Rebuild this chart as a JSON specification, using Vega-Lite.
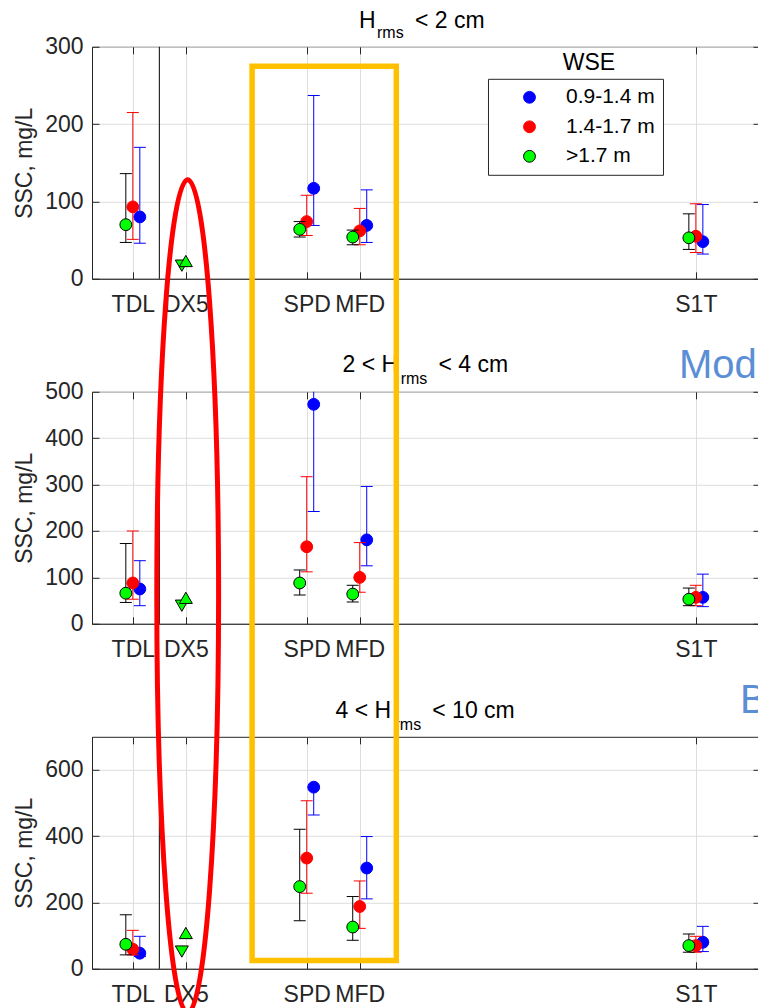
{
  "$schema": "https://vega.github.io/schema/vega-lite/v6.json",
  "background": "white",
  "padding": {"left": 13, "top": 8.8, "right": 0, "bottom": 0},
  "autosize": {"type": "pad"},
  "config": {
    "font": "Liberation Sans",
    "view": {"stroke": "#262626", "strokeWidth": 1},
    "axis": {
      "labelFont": "Liberation Sans", "labelFontSize": 23, "labelColor": "#262626",
      "titleFont": "Liberation Sans", "titleFontSize": 23, "titleFontWeight": "normal", "titleColor": "#262626",
      "domainColor": "#262626", "domainWidth": 1, "tickColor": "#262626", "tickWidth": 1,
      "gridColor": "#DEDEDE", "gridWidth": 1, "labelFlush": false, "labelOverlap": false
    }
  },
  "datasets": {
    "divider": [{"pos": 1.5}],
    "ssc": [
      {"panel": 1, "station": "TDL", "pos": 1, "wse": "0.9-1.4 m", "ssc": 80, "lo": 46, "hi": 170},
      {"panel": 1, "station": "TDL", "pos": 1, "wse": "1.4-1.7 m", "ssc": 93, "lo": 51, "hi": 215},
      {"panel": 1, "station": "TDL", "pos": 1, "wse": ">1.7 m", "ssc": 70, "lo": 47, "hi": 136},
      {"panel": 1, "station": "SPD", "pos": 4.28, "wse": "0.9-1.4 m", "ssc": 117, "lo": 69, "hi": 237},
      {"panel": 1, "station": "SPD", "pos": 4.28, "wse": "1.4-1.7 m", "ssc": 74, "lo": 56, "hi": 108},
      {"panel": 1, "station": "SPD", "pos": 4.28, "wse": ">1.7 m", "ssc": 64, "lo": 54, "hi": 74},
      {"panel": 1, "station": "MFD", "pos": 5.28, "wse": "0.9-1.4 m", "ssc": 69, "lo": 47, "hi": 115},
      {"panel": 1, "station": "MFD", "pos": 5.28, "wse": "1.4-1.7 m", "ssc": 62, "lo": 44, "hi": 91},
      {"panel": 1, "station": "MFD", "pos": 5.28, "wse": ">1.7 m", "ssc": 54, "lo": 44, "hi": 63},
      {"panel": 1, "station": "S1T", "pos": 11.62, "wse": "0.9-1.4 m", "ssc": 48, "lo": 32, "hi": 96},
      {"panel": 1, "station": "S1T", "pos": 11.62, "wse": "1.4-1.7 m", "ssc": 55, "lo": 34, "hi": 97},
      {"panel": 1, "station": "S1T", "pos": 11.62, "wse": ">1.7 m", "ssc": 53, "lo": 38, "hi": 84},
      {"panel": 2, "station": "TDL", "pos": 1, "wse": "0.9-1.4 m", "ssc": 75, "lo": 39, "hi": 136},
      {"panel": 2, "station": "TDL", "pos": 1, "wse": "1.4-1.7 m", "ssc": 88, "lo": 53, "hi": 200},
      {"panel": 2, "station": "TDL", "pos": 1, "wse": ">1.7 m", "ssc": 66, "lo": 46, "hi": 173},
      {"panel": 2, "station": "SPD", "pos": 4.28, "wse": "0.9-1.4 m", "ssc": 473, "lo": 242, "hi": 700},
      {"panel": 2, "station": "SPD", "pos": 4.28, "wse": "1.4-1.7 m", "ssc": 166, "lo": 112, "hi": 317},
      {"panel": 2, "station": "SPD", "pos": 4.28, "wse": ">1.7 m", "ssc": 88, "lo": 62, "hi": 116},
      {"panel": 2, "station": "MFD", "pos": 5.28, "wse": "0.9-1.4 m", "ssc": 181, "lo": 125, "hi": 296},
      {"panel": 2, "station": "MFD", "pos": 5.28, "wse": "1.4-1.7 m", "ssc": 100, "lo": 68, "hi": 175},
      {"panel": 2, "station": "MFD", "pos": 5.28, "wse": ">1.7 m", "ssc": 64, "lo": 47, "hi": 83},
      {"panel": 2, "station": "S1T", "pos": 11.62, "wse": "0.9-1.4 m", "ssc": 57, "lo": 37, "hi": 107},
      {"panel": 2, "station": "S1T", "pos": 11.62, "wse": "1.4-1.7 m", "ssc": 57, "lo": 39, "hi": 83},
      {"panel": 2, "station": "S1T", "pos": 11.62, "wse": ">1.7 m", "ssc": 53, "lo": 39, "hi": 77},
      {"panel": 3, "station": "TDL", "pos": 1, "wse": "0.9-1.4 m", "ssc": 47, "lo": 37, "hi": 98},
      {"panel": 3, "station": "TDL", "pos": 1, "wse": "1.4-1.7 m", "ssc": 59, "lo": 42, "hi": 116},
      {"panel": 3, "station": "TDL", "pos": 1, "wse": ">1.7 m", "ssc": 74, "lo": 42, "hi": 163},
      {"panel": 3, "station": "SPD", "pos": 4.28, "wse": "0.9-1.4 m", "ssc": 548, "lo": 464, "hi": 548},
      {"panel": 3, "station": "SPD", "pos": 4.28, "wse": "1.4-1.7 m", "ssc": 334, "lo": 228, "hi": 507},
      {"panel": 3, "station": "SPD", "pos": 4.28, "wse": ">1.7 m", "ssc": 248, "lo": 145, "hi": 421},
      {"panel": 3, "station": "MFD", "pos": 5.28, "wse": "0.9-1.4 m", "ssc": 304, "lo": 211, "hi": 399},
      {"panel": 3, "station": "MFD", "pos": 5.28, "wse": "1.4-1.7 m", "ssc": 188, "lo": 122, "hi": 265},
      {"panel": 3, "station": "MFD", "pos": 5.28, "wse": ">1.7 m", "ssc": 126, "lo": 86, "hi": 218},
      {"panel": 3, "station": "S1T", "pos": 11.62, "wse": "0.9-1.4 m", "ssc": 80, "lo": 52, "hi": 128},
      {"panel": 3, "station": "S1T", "pos": 11.62, "wse": "1.4-1.7 m", "ssc": 70, "lo": 50, "hi": 98},
      {"panel": 3, "station": "S1T", "pos": 11.62, "wse": ">1.7 m", "ssc": 70, "lo": 50, "hi": 105}
    ],
    "dx5": [
      {"panel": 1, "station": "DX5", "pos": 2, "dir": "down", "ssc": 17},
      {"panel": 1, "station": "DX5", "pos": 2, "dir": "up", "ssc": 23},
      {"panel": 2, "station": "DX5", "pos": 2, "dir": "down", "ssc": 39},
      {"panel": 2, "station": "DX5", "pos": 2, "dir": "up", "ssc": 56},
      {"panel": 3, "station": "DX5", "pos": 2, "dir": "down", "ssc": 52},
      {"panel": 3, "station": "DX5", "pos": 2, "dir": "up", "ssc": 108}
    ]
  },
  "spacing": 113,
  "bounds": "flush",
  "resolve": {
    "scale": {"y": "independent", "fill": "independent", "stroke": "independent"},
    "legend": {"fill": "independent", "stroke": "independent"}
  },
  "vconcat": [
    {
      "width": 668, "height": 232,
      "resolve": {"axis": {"x": "independent", "y": "independent"}},
      "layer": [
        {"data": {"name": "divider"}, "mark": {"type": "rule", "color": "#000000", "strokeWidth": 1},
         "encoding": {"x": {"field": "pos", "type": "quantitative", "scale": {"domain": [0.23, 12.83], "nice": false, "zero": false}, "axis": null}}},

        {"data": {"name": "ssc"}, "transform": [{"filter": "datum.panel == 1 && datum.wse == '0.9-1.4 m'"}],
         "mark": {"type": "rule", "stroke": "#0000FF", "strokeWidth": 1, "clip": true, "xOffset": 7},
         "encoding": {"x": {"field": "pos", "type": "quantitative", "scale": {"domain": [0.23, 12.83], "nice": false, "zero": false}, "axis": null},
                      "y": {"field": "lo", "type": "quantitative", "scale": {"domain": [0, 300], "nice": false, "zero": false}, "axis": null}, "y2": {"field": "hi"}}},
        {"data": {"name": "ssc"}, "transform": [{"filter": "datum.panel == 1 && datum.wse == '0.9-1.4 m'"}, {"fold": ["lo", "hi"], "as": ["end", "val"]}],
         "mark": {"type": "point", "shape": "stroke", "size": 144, "strokeWidth": 1, "filled": false, "stroke": "#0000FF", "opacity": 1, "clip": true, "xOffset": 7},
         "encoding": {"x": {"field": "pos", "type": "quantitative", "scale": {"domain": [0.23, 12.83], "nice": false, "zero": false},
                            "axis": {"orient": "top", "values": [1, 2, 4.28, 5.28, 11.62], "labels": false, "grid": false, "domain": false, "tickSize": -7, "title": null}},
                      "y": {"field": "val", "type": "quantitative", "scale": {"domain": [0, 300], "nice": false, "zero": false},
                            "axis": {"orient": "right", "values": [0, 100, 200, 300], "labels": false, "grid": false, "domain": false, "tickSize": -7, "title": null}}}},
        {"data": {"name": "ssc"}, "transform": [{"filter": "datum.panel == 1 && datum.wse == '0.9-1.4 m'"}],
         "mark": {"type": "point", "filled": true, "shape": "circle", "size": 140, "strokeWidth": 1, "opacity": 1, "xOffset": 7},
         "encoding": {
           "x": {"field": "pos", "type": "quantitative", "scale": {"domain": [0.23, 12.83], "nice": false, "zero": false},
                 "axis": {"values": [1, 2, 4.28, 5.28, 11.62], "labelExpr": "datum.value < 1.5 ? 'TDL' : datum.value < 3 ? 'DX5' : datum.value < 4.8 ? 'SPD' : datum.value < 8 ? 'MFD' : 'S1T'", "title": null, "grid": true, "tickSize": -7, "labelPadding": 22}},
           "y": {"field": "ssc", "type": "quantitative", "scale": {"domain": [0, 300], "nice": false, "zero": false},
                 "axis": {"values": [0, 100, 200, 300], "title": "SSC, mg/L", "grid": true, "tickSize": -7, "labelPadding": 16, "titlePadding": 8}},
           "fill": {"field": "wse", "type": "nominal", "scale": {"domain": ["0.9-1.4 m", "1.4-1.7 m", ">1.7 m"], "range": ["#0000FF", "#FF0000", "#00FF00"]},
                    "legend": {"orient": "none", "legendX": 396, "legendY": 32, "title": null, "padding": 8, "symbolOffset": 23, "labelOffset": 26, "rowPadding": 7.5, "strokeColor": "#262626", "fillColor": "white", "labelFont": "Liberation Sans", "labelFontSize": 21, "labelColor": "#000000", "symbolType": "circle", "symbolSize": 140, "symbolStrokeWidth": 1, "labelLimit": 300}},
           "stroke": {"field": "wse", "type": "nominal", "scale": {"domain": ["0.9-1.4 m", "1.4-1.7 m", ">1.7 m"], "range": ["#0000FF", "#FF0000", "#000000"]},
                    "legend": {"orient": "none", "legendX": 396, "legendY": 32, "title": null, "padding": 8, "symbolOffset": 23, "labelOffset": 26, "rowPadding": 7.5, "strokeColor": "#262626", "fillColor": "white", "labelFont": "Liberation Sans", "labelFontSize": 21, "labelColor": "#000000", "symbolType": "circle", "symbolSize": 140, "symbolStrokeWidth": 1, "labelLimit": 300}}
         }},

        {"data": {"name": "ssc"}, "transform": [{"filter": "datum.panel == 1 && datum.wse == '1.4-1.7 m'"}],
         "mark": {"type": "rule", "stroke": "#FF0000", "strokeWidth": 1, "clip": true},
         "encoding": {"x": {"field": "pos", "type": "quantitative", "scale": {"domain": [0.23, 12.83], "nice": false, "zero": false}, "axis": null},
                      "y": {"field": "lo", "type": "quantitative", "scale": {"domain": [0, 300], "nice": false, "zero": false}, "axis": null}, "y2": {"field": "hi"}}},
        {"data": {"name": "ssc"}, "transform": [{"filter": "datum.panel == 1 && datum.wse == '1.4-1.7 m'"}, {"fold": ["lo", "hi"], "as": ["end", "val"]}],
         "mark": {"type": "point", "shape": "stroke", "size": 144, "strokeWidth": 1, "filled": false, "stroke": "#FF0000", "opacity": 1, "clip": true},
         "encoding": {"x": {"field": "pos", "type": "quantitative", "scale": {"domain": [0.23, 12.83], "nice": false, "zero": false}, "axis": null},
                      "y": {"field": "val", "type": "quantitative", "scale": {"domain": [0, 300], "nice": false, "zero": false}, "axis": null}}},
        {"data": {"name": "ssc"}, "transform": [{"filter": "datum.panel == 1 && datum.wse == '1.4-1.7 m'"}],
         "mark": {"type": "point", "filled": true, "shape": "circle", "size": 140, "strokeWidth": 1, "opacity": 1},
         "encoding": {
           "x": {"field": "pos", "type": "quantitative", "scale": {"domain": [0.23, 12.83], "nice": false, "zero": false}, "axis": null},
           "y": {"field": "ssc", "type": "quantitative", "scale": {"domain": [0, 300], "nice": false, "zero": false}, "axis": null},
           "fill": {"field": "wse", "type": "nominal", "scale": {"domain": ["0.9-1.4 m", "1.4-1.7 m", ">1.7 m"], "range": ["#0000FF", "#FF0000", "#00FF00"]},
                    "legend": {"orient": "none", "legendX": 396, "legendY": 32, "title": null, "padding": 8, "symbolOffset": 23, "labelOffset": 26, "rowPadding": 7.5, "strokeColor": "#262626", "fillColor": "white", "labelFont": "Liberation Sans", "labelFontSize": 21, "labelColor": "#000000", "symbolType": "circle", "symbolSize": 140, "symbolStrokeWidth": 1, "labelLimit": 300}},
           "stroke": {"field": "wse", "type": "nominal", "scale": {"domain": ["0.9-1.4 m", "1.4-1.7 m", ">1.7 m"], "range": ["#0000FF", "#FF0000", "#000000"]},
                    "legend": {"orient": "none", "legendX": 396, "legendY": 32, "title": null, "padding": 8, "symbolOffset": 23, "labelOffset": 26, "rowPadding": 7.5, "strokeColor": "#262626", "fillColor": "white", "labelFont": "Liberation Sans", "labelFontSize": 21, "labelColor": "#000000", "symbolType": "circle", "symbolSize": 140, "symbolStrokeWidth": 1, "labelLimit": 300}}
         }},

        {"data": {"name": "ssc"}, "transform": [{"filter": "datum.panel == 1 && datum.wse == '>1.7 m'"}],
         "mark": {"type": "rule", "stroke": "#000000", "strokeWidth": 1, "clip": true, "xOffset": -7},
         "encoding": {"x": {"field": "pos", "type": "quantitative", "scale": {"domain": [0.23, 12.83], "nice": false, "zero": false}, "axis": null},
                      "y": {"field": "lo", "type": "quantitative", "scale": {"domain": [0, 300], "nice": false, "zero": false}, "axis": null}, "y2": {"field": "hi"}}},
        {"data": {"name": "ssc"}, "transform": [{"filter": "datum.panel == 1 && datum.wse == '>1.7 m'"}, {"fold": ["lo", "hi"], "as": ["end", "val"]}],
         "mark": {"type": "point", "shape": "stroke", "size": 144, "strokeWidth": 1, "filled": false, "stroke": "#000000", "opacity": 1, "clip": true, "xOffset": -7},
         "encoding": {"x": {"field": "pos", "type": "quantitative", "scale": {"domain": [0.23, 12.83], "nice": false, "zero": false}, "axis": null},
                      "y": {"field": "val", "type": "quantitative", "scale": {"domain": [0, 300], "nice": false, "zero": false}, "axis": null}}},
        {"data": {"name": "ssc"}, "transform": [{"filter": "datum.panel == 1 && datum.wse == '>1.7 m'"}],
         "mark": {"type": "point", "filled": true, "shape": "circle", "size": 140, "strokeWidth": 1, "opacity": 1, "xOffset": -7},
         "encoding": {
           "x": {"field": "pos", "type": "quantitative", "scale": {"domain": [0.23, 12.83], "nice": false, "zero": false}, "axis": null},
           "y": {"field": "ssc", "type": "quantitative", "scale": {"domain": [0, 300], "nice": false, "zero": false}, "axis": null},
           "fill": {"field": "wse", "type": "nominal", "scale": {"domain": ["0.9-1.4 m", "1.4-1.7 m", ">1.7 m"], "range": ["#0000FF", "#FF0000", "#00FF00"]},
                    "legend": {"orient": "none", "legendX": 396, "legendY": 32, "title": null, "padding": 8, "symbolOffset": 23, "labelOffset": 26, "rowPadding": 7.5, "strokeColor": "#262626", "fillColor": "white", "labelFont": "Liberation Sans", "labelFontSize": 21, "labelColor": "#000000", "symbolType": "circle", "symbolSize": 140, "symbolStrokeWidth": 1, "labelLimit": 300}},
           "stroke": {"field": "wse", "type": "nominal", "scale": {"domain": ["0.9-1.4 m", "1.4-1.7 m", ">1.7 m"], "range": ["#0000FF", "#FF0000", "#000000"]},
                    "legend": {"orient": "none", "legendX": 396, "legendY": 32, "title": null, "padding": 8, "symbolOffset": 23, "labelOffset": 26, "rowPadding": 7.5, "strokeColor": "#262626", "fillColor": "white", "labelFont": "Liberation Sans", "labelFontSize": 21, "labelColor": "#000000", "symbolType": "circle", "symbolSize": 140, "symbolStrokeWidth": 1, "labelLimit": 300}}
         }},

        {"data": {"name": "dx5"}, "transform": [{"filter": "datum.panel == 1 && datum.dir == 'down'"}],
         "mark": {"type": "point", "shape": "triangle-down", "filled": true, "fill": "#00FF00", "stroke": "#000000", "strokeWidth": 1, "size": 169, "opacity": 1, "xOffset": -4},
         "encoding": {"x": {"field": "pos", "type": "quantitative", "scale": {"domain": [0.23, 12.83], "nice": false, "zero": false}, "axis": null},
                      "y": {"field": "ssc", "type": "quantitative", "scale": {"domain": [0, 300], "nice": false, "zero": false}, "axis": null}}},
        {"data": {"name": "dx5"}, "transform": [{"filter": "datum.panel == 1 && datum.dir == 'up'"}],
         "mark": {"type": "point", "shape": "triangle-up", "filled": true, "fill": "#00FF00", "stroke": "#000000", "strokeWidth": 1, "size": 169, "opacity": 1},
         "encoding": {"x": {"field": "pos", "type": "quantitative", "scale": {"domain": [0.23, 12.83], "nice": false, "zero": false}, "axis": null},
                      "y": {"field": "ssc", "type": "quantitative", "scale": {"domain": [0, 300], "nice": false, "zero": false}, "axis": null}}},

        {"data": {"values": [{}]},
         "mark": {"type": "text", "text": "H", "font": "Liberation Sans", "fontSize": 23, "color": "#000000", "align": "left", "baseline": "alphabetic"},
         "encoding": {"x": {"datum": 5.266, "type": "quantitative", "scale": {"domain": [0.23, 12.83], "nice": false, "zero": false}, "axis": null},
                      "y": {"datum": 324.6, "type": "quantitative", "scale": {"domain": [0, 300], "nice": false, "zero": false}, "axis": null}}},
        {"data": {"values": [{}]},
         "mark": {"type": "text", "text": "rms", "font": "Liberation Sans", "fontSize": 16, "color": "#000000", "align": "left", "baseline": "alphabetic"},
         "encoding": {"x": {"datum": 5.606, "type": "quantitative", "scale": {"domain": [0.23, 12.83], "nice": false, "zero": false}, "axis": null},
                      "y": {"datum": 311.6, "type": "quantitative", "scale": {"domain": [0, 300], "nice": false, "zero": false}, "axis": null}}},
        {"data": {"values": [{}]},
         "mark": {"type": "text", "text": "< 2 cm", "font": "Liberation Sans", "fontSize": 23, "color": "#000000", "align": "left", "baseline": "alphabetic"},
         "encoding": {"x": {"datum": 6.3225, "type": "quantitative", "scale": {"domain": [0.23, 12.83], "nice": false, "zero": false}, "axis": null},
                      "y": {"datum": 324.6, "type": "quantitative", "scale": {"domain": [0, 300], "nice": false, "zero": false}, "axis": null}}},
        {"data": {"values": [{}]},
         "mark": {"type": "text", "text": "WSE", "font": "Liberation Sans", "fontSize": 23, "color": "#000000", "align": "center", "baseline": "middle"},
         "encoding": {"x": {"datum": 9.604, "type": "quantitative", "scale": {"domain": [0.23, 12.83], "nice": false, "zero": false}, "axis": null},
                      "y": {"datum": 278.7, "type": "quantitative", "scale": {"domain": [0, 300], "nice": false, "zero": false}, "axis": null}}}
      ]
    },
    {
      "width": 668, "height": 232,
      "resolve": {"axis": {"x": "independent", "y": "independent"}},
      "layer": [
        {"data": {"name": "divider"}, "mark": {"type": "rule", "color": "#000000", "strokeWidth": 1},
         "encoding": {"x": {"field": "pos", "type": "quantitative", "scale": {"domain": [0.23, 12.83], "nice": false, "zero": false}, "axis": null}}},

        {"data": {"name": "ssc"}, "transform": [{"filter": "datum.panel == 2 && datum.wse == '0.9-1.4 m'"}],
         "mark": {"type": "rule", "stroke": "#0000FF", "strokeWidth": 1, "clip": true, "xOffset": 7},
         "encoding": {"x": {"field": "pos", "type": "quantitative", "scale": {"domain": [0.23, 12.83], "nice": false, "zero": false}, "axis": null},
                      "y": {"field": "lo", "type": "quantitative", "scale": {"domain": [0, 500], "nice": false, "zero": false}, "axis": null}, "y2": {"field": "hi"}}},
        {"data": {"name": "ssc"}, "transform": [{"filter": "datum.panel == 2 && datum.wse == '0.9-1.4 m'"}, {"fold": ["lo", "hi"], "as": ["end", "val"]}],
         "mark": {"type": "point", "shape": "stroke", "size": 144, "strokeWidth": 1, "filled": false, "stroke": "#0000FF", "opacity": 1, "clip": true, "xOffset": 7},
         "encoding": {"x": {"field": "pos", "type": "quantitative", "scale": {"domain": [0.23, 12.83], "nice": false, "zero": false},
                            "axis": {"orient": "top", "values": [1, 2, 4.28, 5.28, 11.62], "labels": false, "grid": false, "domain": false, "tickSize": -7, "title": null}},
                      "y": {"field": "val", "type": "quantitative", "scale": {"domain": [0, 500], "nice": false, "zero": false},
                            "axis": {"orient": "right", "values": [0, 100, 200, 300, 400, 500], "labels": false, "grid": false, "domain": false, "tickSize": -7, "title": null}}}},
        {"data": {"name": "ssc"}, "transform": [{"filter": "datum.panel == 2 && datum.wse == '0.9-1.4 m'"}],
         "mark": {"type": "point", "filled": true, "shape": "circle", "size": 140, "strokeWidth": 1, "opacity": 1, "xOffset": 7},
         "encoding": {
           "x": {"field": "pos", "type": "quantitative", "scale": {"domain": [0.23, 12.83], "nice": false, "zero": false},
                 "axis": {"values": [1, 2, 4.28, 5.28, 11.62], "labelExpr": "datum.value < 1.5 ? 'TDL' : datum.value < 3 ? 'DX5' : datum.value < 4.8 ? 'SPD' : datum.value < 8 ? 'MFD' : 'S1T'", "title": null, "grid": true, "tickSize": -7, "labelPadding": 22}},
           "y": {"field": "ssc", "type": "quantitative", "scale": {"domain": [0, 500], "nice": false, "zero": false},
                 "axis": {"values": [0, 100, 200, 300, 400, 500], "title": "SSC, mg/L", "grid": true, "tickSize": -7, "labelPadding": 16, "titlePadding": 8}},
           "fill": {"field": "wse", "type": "nominal", "scale": {"domain": ["0.9-1.4 m", "1.4-1.7 m", ">1.7 m"], "range": ["#0000FF", "#FF0000", "#00FF00"]}, "legend": null},
           "stroke": {"field": "wse", "type": "nominal", "scale": {"domain": ["0.9-1.4 m", "1.4-1.7 m", ">1.7 m"], "range": ["#0000FF", "#FF0000", "#000000"]}, "legend": null}
         }},

        {"data": {"name": "ssc"}, "transform": [{"filter": "datum.panel == 2 && datum.wse == '1.4-1.7 m'"}],
         "mark": {"type": "rule", "stroke": "#FF0000", "strokeWidth": 1, "clip": true},
         "encoding": {"x": {"field": "pos", "type": "quantitative", "scale": {"domain": [0.23, 12.83], "nice": false, "zero": false}, "axis": null},
                      "y": {"field": "lo", "type": "quantitative", "scale": {"domain": [0, 500], "nice": false, "zero": false}, "axis": null}, "y2": {"field": "hi"}}},
        {"data": {"name": "ssc"}, "transform": [{"filter": "datum.panel == 2 && datum.wse == '1.4-1.7 m'"}, {"fold": ["lo", "hi"], "as": ["end", "val"]}],
         "mark": {"type": "point", "shape": "stroke", "size": 144, "strokeWidth": 1, "filled": false, "stroke": "#FF0000", "opacity": 1, "clip": true},
         "encoding": {"x": {"field": "pos", "type": "quantitative", "scale": {"domain": [0.23, 12.83], "nice": false, "zero": false}, "axis": null},
                      "y": {"field": "val", "type": "quantitative", "scale": {"domain": [0, 500], "nice": false, "zero": false}, "axis": null}}},
        {"data": {"name": "ssc"}, "transform": [{"filter": "datum.panel == 2 && datum.wse == '1.4-1.7 m'"}],
         "mark": {"type": "point", "filled": true, "shape": "circle", "size": 140, "strokeWidth": 1, "opacity": 1},
         "encoding": {
           "x": {"field": "pos", "type": "quantitative", "scale": {"domain": [0.23, 12.83], "nice": false, "zero": false}, "axis": null},
           "y": {"field": "ssc", "type": "quantitative", "scale": {"domain": [0, 500], "nice": false, "zero": false}, "axis": null},
           "fill": {"field": "wse", "type": "nominal", "scale": {"domain": ["0.9-1.4 m", "1.4-1.7 m", ">1.7 m"], "range": ["#0000FF", "#FF0000", "#00FF00"]}, "legend": null},
           "stroke": {"field": "wse", "type": "nominal", "scale": {"domain": ["0.9-1.4 m", "1.4-1.7 m", ">1.7 m"], "range": ["#0000FF", "#FF0000", "#000000"]}, "legend": null}
         }},

        {"data": {"name": "ssc"}, "transform": [{"filter": "datum.panel == 2 && datum.wse == '>1.7 m'"}],
         "mark": {"type": "rule", "stroke": "#000000", "strokeWidth": 1, "clip": true, "xOffset": -7},
         "encoding": {"x": {"field": "pos", "type": "quantitative", "scale": {"domain": [0.23, 12.83], "nice": false, "zero": false}, "axis": null},
                      "y": {"field": "lo", "type": "quantitative", "scale": {"domain": [0, 500], "nice": false, "zero": false}, "axis": null}, "y2": {"field": "hi"}}},
        {"data": {"name": "ssc"}, "transform": [{"filter": "datum.panel == 2 && datum.wse == '>1.7 m'"}, {"fold": ["lo", "hi"], "as": ["end", "val"]}],
         "mark": {"type": "point", "shape": "stroke", "size": 144, "strokeWidth": 1, "filled": false, "stroke": "#000000", "opacity": 1, "clip": true, "xOffset": -7},
         "encoding": {"x": {"field": "pos", "type": "quantitative", "scale": {"domain": [0.23, 12.83], "nice": false, "zero": false}, "axis": null},
                      "y": {"field": "val", "type": "quantitative", "scale": {"domain": [0, 500], "nice": false, "zero": false}, "axis": null}}},
        {"data": {"name": "ssc"}, "transform": [{"filter": "datum.panel == 2 && datum.wse == '>1.7 m'"}],
         "mark": {"type": "point", "filled": true, "shape": "circle", "size": 140, "strokeWidth": 1, "opacity": 1, "xOffset": -7},
         "encoding": {
           "x": {"field": "pos", "type": "quantitative", "scale": {"domain": [0.23, 12.83], "nice": false, "zero": false}, "axis": null},
           "y": {"field": "ssc", "type": "quantitative", "scale": {"domain": [0, 500], "nice": false, "zero": false}, "axis": null},
           "fill": {"field": "wse", "type": "nominal", "scale": {"domain": ["0.9-1.4 m", "1.4-1.7 m", ">1.7 m"], "range": ["#0000FF", "#FF0000", "#00FF00"]}, "legend": null},
           "stroke": {"field": "wse", "type": "nominal", "scale": {"domain": ["0.9-1.4 m", "1.4-1.7 m", ">1.7 m"], "range": ["#0000FF", "#FF0000", "#000000"]}, "legend": null}
         }},

        {"data": {"name": "dx5"}, "transform": [{"filter": "datum.panel == 2 && datum.dir == 'down'"}],
         "mark": {"type": "point", "shape": "triangle-down", "filled": true, "fill": "#00FF00", "stroke": "#000000", "strokeWidth": 1, "size": 169, "opacity": 1, "xOffset": -4},
         "encoding": {"x": {"field": "pos", "type": "quantitative", "scale": {"domain": [0.23, 12.83], "nice": false, "zero": false}, "axis": null},
                      "y": {"field": "ssc", "type": "quantitative", "scale": {"domain": [0, 500], "nice": false, "zero": false}, "axis": null}}},
        {"data": {"name": "dx5"}, "transform": [{"filter": "datum.panel == 2 && datum.dir == 'up'"}],
         "mark": {"type": "point", "shape": "triangle-up", "filled": true, "fill": "#00FF00", "stroke": "#000000", "strokeWidth": 1, "size": 169, "opacity": 1},
         "encoding": {"x": {"field": "pos", "type": "quantitative", "scale": {"domain": [0.23, 12.83], "nice": false, "zero": false}, "axis": null},
                      "y": {"field": "ssc", "type": "quantitative", "scale": {"domain": [0, 500], "nice": false, "zero": false}, "axis": null}}},

        {"data": {"values": [{}]},
         "mark": {"type": "text", "text": "2 < H", "font": "Liberation Sans", "fontSize": 23, "color": "#000000", "align": "left", "baseline": "alphabetic"},
         "encoding": {"x": {"datum": 4.957, "type": "quantitative", "scale": {"domain": [0.23, 12.83], "nice": false, "zero": false}, "axis": null},
                      "y": {"datum": 541.6, "type": "quantitative", "scale": {"domain": [0, 500], "nice": false, "zero": false}, "axis": null}}},
        {"data": {"values": [{}]},
         "mark": {"type": "text", "text": "rms", "font": "Liberation Sans", "fontSize": 16, "color": "#000000", "align": "left", "baseline": "alphabetic"},
         "encoding": {"x": {"datum": 6.053, "type": "quantitative", "scale": {"domain": [0.23, 12.83], "nice": false, "zero": false}, "axis": null},
                      "y": {"datum": 516.6, "type": "quantitative", "scale": {"domain": [0, 500], "nice": false, "zero": false}, "axis": null}}},
        {"data": {"values": [{}]},
         "mark": {"type": "text", "text": "< 4 cm", "font": "Liberation Sans", "fontSize": 23, "color": "#000000", "align": "left", "baseline": "alphabetic"},
         "encoding": {"x": {"datum": 6.766, "type": "quantitative", "scale": {"domain": [0.23, 12.83], "nice": false, "zero": false}, "axis": null},
                      "y": {"datum": 541.6, "type": "quantitative", "scale": {"domain": [0, 500], "nice": false, "zero": false}, "axis": null}}},
        {"data": {"values": [{}]},
         "mark": {"type": "text", "text": "Mod", "font": "Liberation Sans", "fontSize": 40, "color": "#5B8FD5", "align": "left", "baseline": "alphabetic"},
         "encoding": {"x": {"datum": 11.301, "type": "quantitative", "scale": {"domain": [0.23, 12.83], "nice": false, "zero": false}, "axis": null},
                      "y": {"datum": 530.2, "type": "quantitative", "scale": {"domain": [0, 500], "nice": false, "zero": false}, "axis": null}}}
      ]
    },
    {
      "width": 668, "height": 232,
      "resolve": {"axis": {"x": "independent", "y": "independent"}},
      "layer": [
        {"data": {"name": "divider"}, "mark": {"type": "rule", "color": "#000000", "strokeWidth": 1},
         "encoding": {"x": {"field": "pos", "type": "quantitative", "scale": {"domain": [0.23, 12.83], "nice": false, "zero": false}, "axis": null}}},

        {"data": {"name": "ssc"}, "transform": [{"filter": "datum.panel == 3 && datum.wse == '0.9-1.4 m'"}],
         "mark": {"type": "rule", "stroke": "#0000FF", "strokeWidth": 1, "clip": true, "xOffset": 7},
         "encoding": {"x": {"field": "pos", "type": "quantitative", "scale": {"domain": [0.23, 12.83], "nice": false, "zero": false}, "axis": null},
                      "y": {"field": "lo", "type": "quantitative", "scale": {"domain": [0, 700], "nice": false, "zero": false}, "axis": null}, "y2": {"field": "hi"}}},
        {"data": {"name": "ssc"}, "transform": [{"filter": "datum.panel == 3 && datum.wse == '0.9-1.4 m'"}, {"fold": ["lo", "hi"], "as": ["end", "val"]}],
         "mark": {"type": "point", "shape": "stroke", "size": 144, "strokeWidth": 1, "filled": false, "stroke": "#0000FF", "opacity": 1, "clip": true, "xOffset": 7},
         "encoding": {"x": {"field": "pos", "type": "quantitative", "scale": {"domain": [0.23, 12.83], "nice": false, "zero": false},
                            "axis": {"orient": "top", "values": [1, 2, 4.28, 5.28, 11.62], "labels": false, "grid": false, "domain": false, "tickSize": -7, "title": null}},
                      "y": {"field": "val", "type": "quantitative", "scale": {"domain": [0, 700], "nice": false, "zero": false},
                            "axis": {"orient": "right", "values": [0, 200, 400, 600], "labels": false, "grid": false, "domain": false, "tickSize": -7, "title": null}}}},
        {"data": {"name": "ssc"}, "transform": [{"filter": "datum.panel == 3 && datum.wse == '0.9-1.4 m'"}],
         "mark": {"type": "point", "filled": true, "shape": "circle", "size": 140, "strokeWidth": 1, "opacity": 1, "xOffset": 7},
         "encoding": {
           "x": {"field": "pos", "type": "quantitative", "scale": {"domain": [0.23, 12.83], "nice": false, "zero": false},
                 "axis": {"values": [1, 2, 4.28, 5.28, 11.62], "labelExpr": "datum.value < 1.5 ? 'TDL' : datum.value < 3 ? 'DX5' : datum.value < 4.8 ? 'SPD' : datum.value < 8 ? 'MFD' : 'S1T'", "title": null, "grid": true, "tickSize": -7, "labelPadding": 22}},
           "y": {"field": "ssc", "type": "quantitative", "scale": {"domain": [0, 700], "nice": false, "zero": false},
                 "axis": {"values": [0, 200, 400, 600], "title": "SSC, mg/L", "grid": true, "tickSize": -7, "labelPadding": 16, "titlePadding": 8}},
           "fill": {"field": "wse", "type": "nominal", "scale": {"domain": ["0.9-1.4 m", "1.4-1.7 m", ">1.7 m"], "range": ["#0000FF", "#FF0000", "#00FF00"]}, "legend": null},
           "stroke": {"field": "wse", "type": "nominal", "scale": {"domain": ["0.9-1.4 m", "1.4-1.7 m", ">1.7 m"], "range": ["#0000FF", "#FF0000", "#000000"]}, "legend": null}
         }},

        {"data": {"name": "ssc"}, "transform": [{"filter": "datum.panel == 3 && datum.wse == '1.4-1.7 m'"}],
         "mark": {"type": "rule", "stroke": "#FF0000", "strokeWidth": 1, "clip": true},
         "encoding": {"x": {"field": "pos", "type": "quantitative", "scale": {"domain": [0.23, 12.83], "nice": false, "zero": false}, "axis": null},
                      "y": {"field": "lo", "type": "quantitative", "scale": {"domain": [0, 700], "nice": false, "zero": false}, "axis": null}, "y2": {"field": "hi"}}},
        {"data": {"name": "ssc"}, "transform": [{"filter": "datum.panel == 3 && datum.wse == '1.4-1.7 m'"}, {"fold": ["lo", "hi"], "as": ["end", "val"]}],
         "mark": {"type": "point", "shape": "stroke", "size": 144, "strokeWidth": 1, "filled": false, "stroke": "#FF0000", "opacity": 1, "clip": true},
         "encoding": {"x": {"field": "pos", "type": "quantitative", "scale": {"domain": [0.23, 12.83], "nice": false, "zero": false}, "axis": null},
                      "y": {"field": "val", "type": "quantitative", "scale": {"domain": [0, 700], "nice": false, "zero": false}, "axis": null}}},
        {"data": {"name": "ssc"}, "transform": [{"filter": "datum.panel == 3 && datum.wse == '1.4-1.7 m'"}],
         "mark": {"type": "point", "filled": true, "shape": "circle", "size": 140, "strokeWidth": 1, "opacity": 1},
         "encoding": {
           "x": {"field": "pos", "type": "quantitative", "scale": {"domain": [0.23, 12.83], "nice": false, "zero": false}, "axis": null},
           "y": {"field": "ssc", "type": "quantitative", "scale": {"domain": [0, 700], "nice": false, "zero": false}, "axis": null},
           "fill": {"field": "wse", "type": "nominal", "scale": {"domain": ["0.9-1.4 m", "1.4-1.7 m", ">1.7 m"], "range": ["#0000FF", "#FF0000", "#00FF00"]}, "legend": null},
           "stroke": {"field": "wse", "type": "nominal", "scale": {"domain": ["0.9-1.4 m", "1.4-1.7 m", ">1.7 m"], "range": ["#0000FF", "#FF0000", "#000000"]}, "legend": null}
         }},

        {"data": {"name": "ssc"}, "transform": [{"filter": "datum.panel == 3 && datum.wse == '>1.7 m'"}],
         "mark": {"type": "rule", "stroke": "#000000", "strokeWidth": 1, "clip": true, "xOffset": -7},
         "encoding": {"x": {"field": "pos", "type": "quantitative", "scale": {"domain": [0.23, 12.83], "nice": false, "zero": false}, "axis": null},
                      "y": {"field": "lo", "type": "quantitative", "scale": {"domain": [0, 700], "nice": false, "zero": false}, "axis": null}, "y2": {"field": "hi"}}},
        {"data": {"name": "ssc"}, "transform": [{"filter": "datum.panel == 3 && datum.wse == '>1.7 m'"}, {"fold": ["lo", "hi"], "as": ["end", "val"]}],
         "mark": {"type": "point", "shape": "stroke", "size": 144, "strokeWidth": 1, "filled": false, "stroke": "#000000", "opacity": 1, "clip": true, "xOffset": -7},
         "encoding": {"x": {"field": "pos", "type": "quantitative", "scale": {"domain": [0.23, 12.83], "nice": false, "zero": false}, "axis": null},
                      "y": {"field": "val", "type": "quantitative", "scale": {"domain": [0, 700], "nice": false, "zero": false}, "axis": null}}},
        {"data": {"name": "ssc"}, "transform": [{"filter": "datum.panel == 3 && datum.wse == '>1.7 m'"}],
         "mark": {"type": "point", "filled": true, "shape": "circle", "size": 140, "strokeWidth": 1, "opacity": 1, "xOffset": -7},
         "encoding": {
           "x": {"field": "pos", "type": "quantitative", "scale": {"domain": [0.23, 12.83], "nice": false, "zero": false}, "axis": null},
           "y": {"field": "ssc", "type": "quantitative", "scale": {"domain": [0, 700], "nice": false, "zero": false}, "axis": null},
           "fill": {"field": "wse", "type": "nominal", "scale": {"domain": ["0.9-1.4 m", "1.4-1.7 m", ">1.7 m"], "range": ["#0000FF", "#FF0000", "#00FF00"]}, "legend": null},
           "stroke": {"field": "wse", "type": "nominal", "scale": {"domain": ["0.9-1.4 m", "1.4-1.7 m", ">1.7 m"], "range": ["#0000FF", "#FF0000", "#000000"]}, "legend": null}
         }},

        {"data": {"name": "dx5"}, "transform": [{"filter": "datum.panel == 3 && datum.dir == 'down'"}],
         "mark": {"type": "point", "shape": "triangle-down", "filled": true, "fill": "#00FF00", "stroke": "#000000", "strokeWidth": 1, "size": 169, "opacity": 1, "xOffset": -4},
         "encoding": {"x": {"field": "pos", "type": "quantitative", "scale": {"domain": [0.23, 12.83], "nice": false, "zero": false}, "axis": null},
                      "y": {"field": "ssc", "type": "quantitative", "scale": {"domain": [0, 700], "nice": false, "zero": false}, "axis": null}}},
        {"data": {"name": "dx5"}, "transform": [{"filter": "datum.panel == 3 && datum.dir == 'up'"}],
         "mark": {"type": "point", "shape": "triangle-up", "filled": true, "fill": "#00FF00", "stroke": "#000000", "strokeWidth": 1, "size": 169, "opacity": 1},
         "encoding": {"x": {"field": "pos", "type": "quantitative", "scale": {"domain": [0.23, 12.83], "nice": false, "zero": false}, "axis": null},
                      "y": {"field": "ssc", "type": "quantitative", "scale": {"domain": [0, 700], "nice": false, "zero": false}, "axis": null}}},

        {"data": {"values": [{}]},
         "mark": {"type": "text", "text": "4 < H", "font": "Liberation Sans", "fontSize": 23, "color": "#000000", "align": "left", "baseline": "alphabetic"},
         "encoding": {"x": {"datum": 4.823, "type": "quantitative", "scale": {"domain": [0.23, 12.83], "nice": false, "zero": false}, "axis": null},
                      "y": {"datum": 757.3, "type": "quantitative", "scale": {"domain": [0, 700], "nice": false, "zero": false}, "axis": null}}},
        {"data": {"values": [{}]},
         "mark": {"type": "text", "text": "rms", "font": "Liberation Sans", "fontSize": 16, "color": "#000000", "align": "left", "baseline": "alphabetic"},
         "encoding": {"x": {"datum": 5.936, "type": "quantitative", "scale": {"domain": [0.23, 12.83], "nice": false, "zero": false}, "axis": null},
                      "y": {"datum": 721.1, "type": "quantitative", "scale": {"domain": [0, 700], "nice": false, "zero": false}, "axis": null}}},
        {"data": {"values": [{}]},
         "mark": {"type": "text", "text": "< 10 cm", "font": "Liberation Sans", "fontSize": 23, "color": "#000000", "align": "left", "baseline": "alphabetic"},
         "encoding": {"x": {"datum": 6.649, "type": "quantitative", "scale": {"domain": [0.23, 12.83], "nice": false, "zero": false}, "axis": null},
                      "y": {"datum": 757.3, "type": "quantitative", "scale": {"domain": [0, 700], "nice": false, "zero": false}, "axis": null}}},
        {"data": {"values": [{}]},
         "mark": {"type": "text", "text": "B", "font": "Liberation Sans", "fontSize": 40, "color": "#5B8FD5", "align": "left", "baseline": "alphabetic"},
         "encoding": {"x": {"datum": 12.452, "type": "quantitative", "scale": {"domain": [0.23, 12.83], "nice": false, "zero": false}, "axis": null},
                      "y": {"datum": 772.4, "type": "quantitative", "scale": {"domain": [0, 700], "nice": false, "zero": false}, "axis": null}}},
        {"data": {"values": [{}]},
         "mark": {"type": "rect", "filled": false, "stroke": "#FFC000", "strokeWidth": 5.5},
         "encoding": {"x": {"datum": 3.25, "type": "quantitative", "scale": {"domain": [0.23, 12.83], "nice": false, "zero": false}, "axis": null},
                      "x2": {"datum": 5.97},
                      "y": {"datum": 25, "type": "quantitative", "scale": {"domain": [0, 700], "nice": false, "zero": false}, "axis": null},
                      "y2": {"datum": 2723}}},
        {"data": {"values": [{}]},
         "mark": {"type": "point", "shape": "M0,-1C0.041,-1 0.0742,-0.5523 0.0742,0C0.0742,0.5523 0.041,1 0,1C-0.041,1 -0.0742,0.5523 -0.0742,0C-0.0742,-0.5523 -0.041,-1 0,-1Z", "size": 693889, "filled": false, "stroke": "#FF0000", "strokeWidth": 5, "opacity": 1},
         "encoding": {"x": {"datum": 2.035, "type": "quantitative", "scale": {"domain": [0.23, 12.83], "nice": false, "zero": false}, "axis": null},
                      "y": {"datum": 1124, "type": "quantitative", "scale": {"domain": [0, 700], "nice": false, "zero": false}, "axis": null}}}
      ]
    }
  ]
}
